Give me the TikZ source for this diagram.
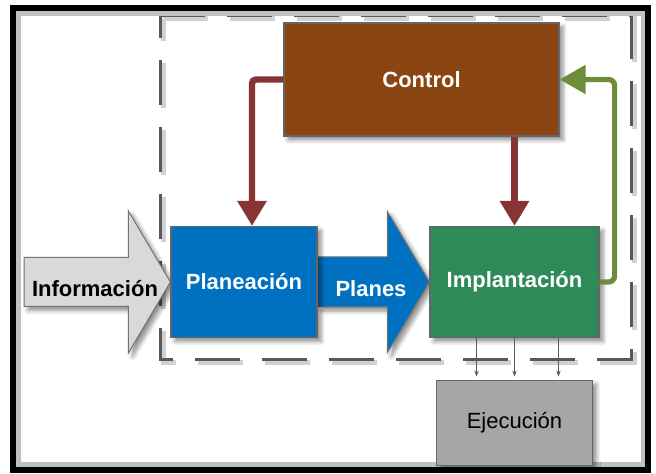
\documentclass[tikz,border=0pt]{standalone}
\usepackage{fontspec}
\setmainfont{Liberation Sans}
\usetikzlibrary{arrows.meta, positioning, shadows.blur, backgrounds}
\definecolor{ctrlbrown}{RGB}{139,69,19}
\definecolor{planblue}{RGB}{0,112,192}
\definecolor{implgreen}{RGB}{46,139,87}
\definecolor{ejecgray}{RGB}{166,166,166}
\definecolor{linkred}{RGB}{137,52,52}
\definecolor{loopgreen}{RGB}{111,140,58}
\definecolor{dashgray}{RGB}{89,89,89}

\begin{document}
\begin{tikzpicture}[
    x=0.5pt, y=-0.5pt,
    font=\fontsize{11}{13}\selectfont,
    softshadow/.style={blur shadow={shadow xshift=2pt, shadow yshift=-2pt, shadow blur steps=6, shadow opacity=45}},
    block/.style={rectangle, draw=black!60, line width=0.6pt, inner sep=0pt, align=center, text=white, font=\fontsize{11}{13}\selectfont\bfseries, softshadow},
    link/.style={draw=linkred, line width=3.2pt, rounded corners=2pt, -{Triangle[width=14pt, length=12.5pt]}},
    loop/.style={draw=loopgreen, line width=2.6pt, rounded corners=3pt, -{Triangle[width=14pt, length=13pt]}},
    feed/.style={draw=dashgray, line width=0.4pt, -{Stealth[length=3pt, width=2.2pt]}, shorten >=1.5pt},
    bigarrow/.style={draw=black!55, line width=0.5pt, softshadow}
]
\useasboundingbox (0,0) rectangle (656,474);

% outer frame
\draw[black!25, line width=2.5pt] (18,13.5) rectangle (643,464);
\draw[line width=3pt] (13,8.5) rectangle (648,469.5);

% blocks
\node[block, fill=ctrlbrown, minimum width=137.5pt, minimum height=56.5pt] (ctrl) at (421.5,79.5) {Control};
\node[block, fill=planblue,  minimum width=73pt,    minimum height=55.5pt] (plan) at (244,282) {Planeación};
\node[block, fill=implgreen, minimum width=84.5pt,  minimum height=55.5pt] (impl) at (514.5,282) {Implantación};
\node[block, fill=ejecgray, text=black, font=\fontsize{11}{13}\selectfont, minimum width=78pt, minimum height=42.5pt, below=20.75pt of impl] (ejec) {Ejecución};
\coordinate (src) at (24,282);

\begin{scope}[on background layer]
  % dashed boundary with its shadow
  \draw[black!18, line width=2.5pt, dash pattern=on 22.5pt off 11pt, dash phase=11.5pt] (163,19) rectangle (634,363);
  \draw[dashgray, line width=1.5pt, dash pattern=on 22.5pt off 11pt, dash phase=11.5pt] (160,16) rectangle (631,360);
  % Informacion arrow
  \filldraw[bigarrow, fill=black!15] ([yshift=12.25pt]src) -- ([xshift=-21pt, yshift=12.25pt]plan.west)
    -- ([xshift=-21pt, yshift=35.5pt]plan.west) -- (plan.west)
    -- ([xshift=-21pt, yshift=-35.5pt]plan.west) -- ([xshift=-21pt, yshift=-12.25pt]plan.west)
    -- ([yshift=-12.25pt]src) -- cycle;
  % Planes arrow
  \filldraw[bigarrow, fill=planblue] ([yshift=12.5pt]plan.east) -- ([xshift=-21pt, yshift=12.5pt]impl.west)
    -- ([xshift=-21pt, yshift=35.25pt]impl.west) -- (impl.west)
    -- ([xshift=-21pt, yshift=-35.25pt]impl.west) -- ([xshift=-21pt, yshift=-12.5pt]impl.west)
    -- ([yshift=-12.5pt]plan.east) -- cycle;
\end{scope}

\node[anchor=base, font=\fontsize{11}{13}\selectfont\bfseries] (infolbl) at (95,297) {Información};
\node[anchor=base, text=white, font=\fontsize{11}{13}\selectfont\bfseries] (planeslbl) at (371,297) {Planes};

% connectors
\draw[link] (ctrl.west) -| ([xshift=4pt]plan.north);
\draw[link] (impl.north |- ctrl.south) -- (impl.north);
\draw[loop] (impl.east) -- ++(15,0) |- (ctrl.east);
\foreach \dx in {-19pt, 0pt, 22pt}
  \draw[feed] ([xshift=\dx]impl.south) -- ([xshift=\dx]impl.south |- ejec.north);
\end{tikzpicture}
\end{document}
